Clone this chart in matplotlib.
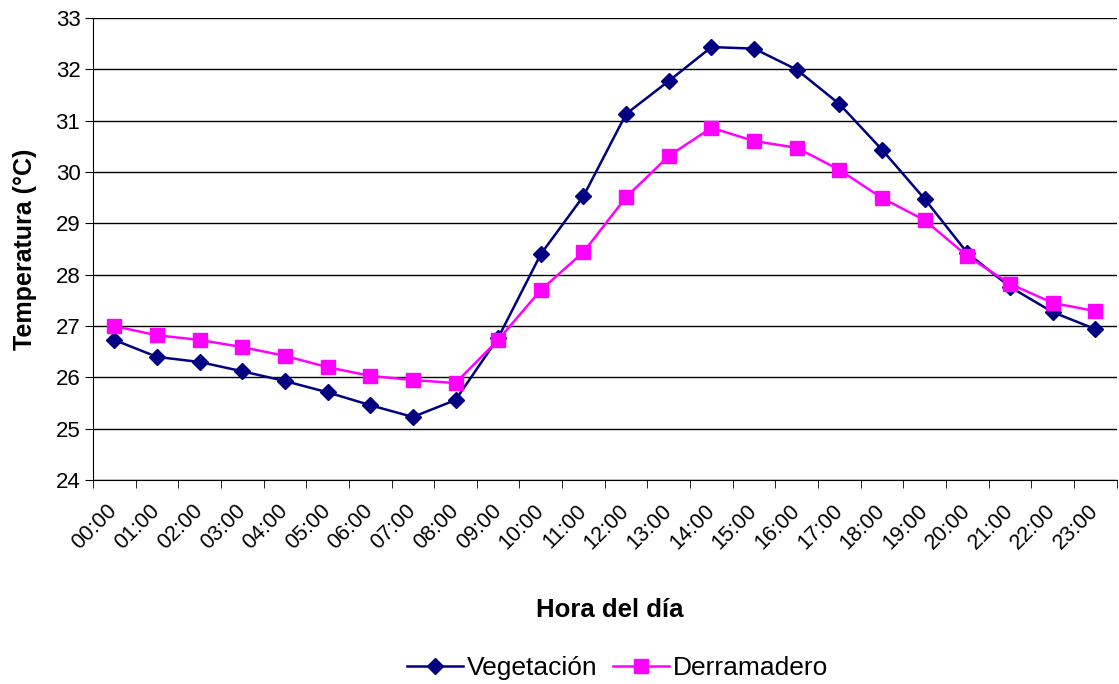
import numpy as np
from matplotlib import pyplot as plt

plt.rcParams['font.family'] = ['Liberation Sans', 'DejaVu Sans']

horas = ["%02d:00" % h for h in range(24)]
vegetacion = [26.73, 26.40, 26.30, 26.12, 25.93, 25.71, 25.46, 25.23, 25.56, 26.77,
              28.40, 29.53, 31.13, 31.77, 32.43, 32.40, 31.99, 31.32, 30.43, 29.47,
              28.42, 27.76, 27.27, 26.94]
derramadero = [27.00, 26.82, 26.73, 26.59, 26.42, 26.20, 26.03, 25.95, 25.89, 26.73,
               27.70, 28.44, 29.51, 30.31, 30.86, 30.60, 30.47, 30.04, 29.49, 29.06,
               28.36, 27.82, 27.45, 27.29]

fig = plt.figure(figsize=(11.19, 6.84), dpi=100)
ax = fig.add_axes([0.083, 0.298, 0.915, 0.676])

x = np.arange(len(horas))
ax.plot(x, vegetacion, color="#000080", lw=1.8, marker="D", ms=8, label="Vegetación")
ax.plot(x, derramadero, color="#FF00FF", lw=1.8, marker="s", ms=10, label="Derramadero")

ax.set_xlim(-0.5, 23.5)
ax.set_ylim(24, 33)
ax.set_yticks(np.arange(24, 34, 1))
ax.yaxis.grid(True, color="black", lw=1)
ax.set_axisbelow(True)
for s in ["top", "right"]:
    ax.spines[s].set_visible(False)

# etiquetas de hora giradas, marcas entre categorias
ax.set_xticks(x)
ax.set_xticklabels(horas, rotation=45, ha="right", va="center", rotation_mode="anchor", fontsize=15.5)
ax.tick_params(axis="x", which="major", length=0, pad=20)
ax.set_xticks(np.arange(-0.5, 24, 1), minor=True)
ax.tick_params(axis="x", which="minor", length=6, direction="out")
ax.tick_params(axis="y", labelsize=16, length=6, pad=3)

ax.set_ylabel("Temperatura (°C)", fontsize=18, fontweight="bold")
ax.yaxis.set_label_coords(-0.055, 0.5)
fig.text(0.545, 0.108, "Hora del día", ha="center", va="center", fontsize=18.5, fontweight="bold")

fig.legend(loc="center", bbox_to_anchor=(0.552, 0.023), ncol=2, frameon=False, fontsize=19,
           handlelength=2.1, handletextpad=0.15, columnspacing=0.6)

fig.savefig("out.png", dpi=100)
